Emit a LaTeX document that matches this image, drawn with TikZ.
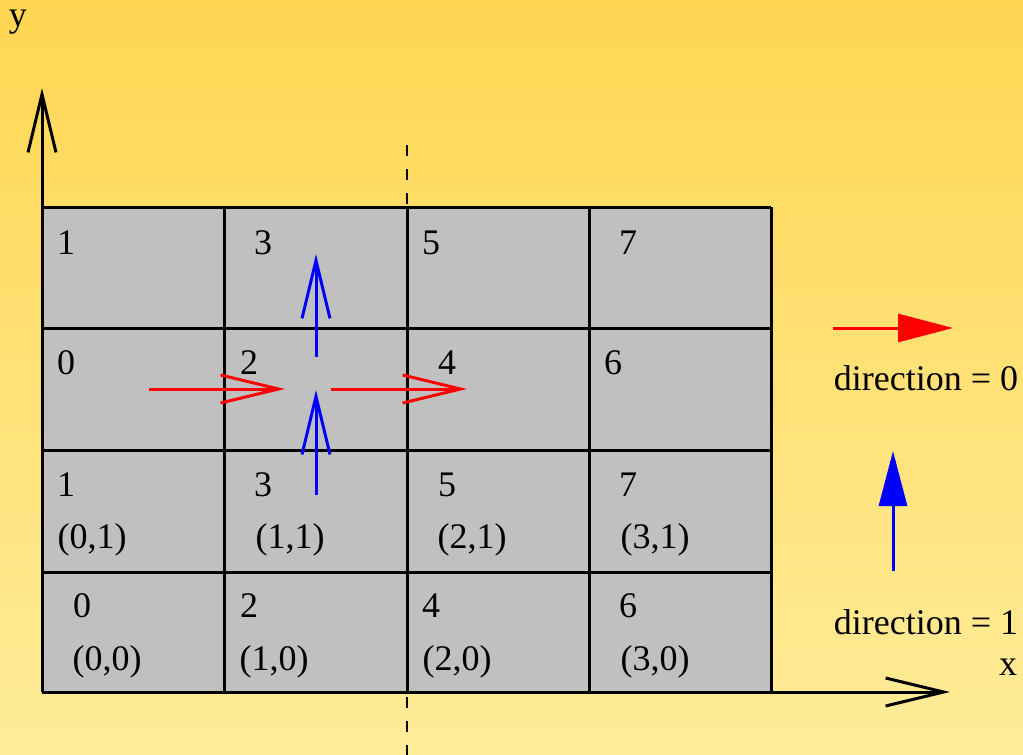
\documentclass[tikz,border=0pt]{standalone}
\usepackage{fontspec}
\setmainfont{Liberation Serif}
\usetikzlibrary{arrows.meta}

\definecolor{bgtop}{RGB}{255,214,82}
\definecolor{bgbottom}{RGB}{255,236,154}
\definecolor{cellgray}{RGB}{192,192,192}

\tikzset{
	lbl/.style={inner sep=0pt, font=\fontsize{18}{22}\selectfont},
	grline/.style={line width=1.5pt},
	barb/.style={-{Straight Barb[length=29pt, width=14pt]}, line width=1.5pt},
	solid head/.style={-{Triangle[length=27.5pt, width=14pt]}, line width=1.5pt}
}

\begin{document}
\begin{tikzpicture}[x=0.5pt, y=-0.5pt]
	\shade[top color=bgtop, bottom color=bgbottom] (0,0) rectangle (1023,755);
	\useasboundingbox (0,0) rectangle (1023,755);
	% cells
	\fill[cellgray] (42,207) rectangle (771,692);
	\foreach \x in {42,224,407,589,771}
		\draw[grline] (\x,207) -- (\x,692);
	\foreach \y in {207,328,450,572,692}
		\draw[grline] (42,\y) -- (771,\y);
	% axes
	\coordinate (o) at (42,692);
	\coordinate (ytip) at (42,88);
	\coordinate (xtip) at (950,692);
	\draw[barb] (o) -- (ytip);
	\draw[barb] (o) -- (xtip);
	\node[lbl, anchor=base] (ylab) at (18,26) {y};
	\node[lbl] (xlab) at (1008,667) {x};
	% split line
	\coordinate (cuttop) at (407,145);
	\coordinate (cutbot) at (407,755);
	\draw[line width=1pt, dash pattern=on 5.5pt off 6.5pt] (cuttop) -- (cutbot);
	% cell numbers
	\node[lbl] (n13) at (66,243) {1};
	\node[lbl] (n33) at (263,243) {3};
	\node[lbl] (n53) at (431,243) {5};
	\node[lbl] (n73) at (628,243) {7};
	\node[lbl] (n02) at (66,363) {0};
	\node[lbl] (n22) at (249,363) {2};
	\node[lbl] (n42) at (447,363) {4};
	\node[lbl] (n62) at (613,363) {6};
	\node[lbl] (n11) at (66,485) {1};
	\node[lbl] (n31) at (263,485) {3};
	\node[lbl] (n51) at (447,485) {5};
	\node[lbl] (n71) at (628,485) {7};
	\node[lbl] (c01) at (92,540) {(0,1)};
	\node[lbl] (c11) at (290,540) {(1,1)};
	\node[lbl] (c21) at (472,540) {(2,1)};
	\node[lbl] (c31) at (655,540) {(3,1)};
	\node[lbl] (n00) at (82,606) {0};
	\node[lbl] (n20) at (249,606) {2};
	\node[lbl] (n40) at (431,606) {4};
	\node[lbl] (n60) at (628,606) {6};
	\node[lbl] (c00) at (107,662) {(0,0)};
	\node[lbl] (c10) at (274,662) {(1,0)};
	\node[lbl] (c20) at (457,662) {(2,0)};
	\node[lbl] (c30) at (655,662) {(3,0)};
	% sends
	\coordinate (ra) at (149,389);
	\coordinate (rb) at (285,389);
	\coordinate (rc) at (331,389);
	\coordinate (rd) at (467,389);
	\coordinate (ba) at (316,495);
	\coordinate (bb) at (316,390);
	\coordinate (bc) at (316,357);
	\coordinate (bd) at (316,254);
	\draw[barb, red] (ra) -- (rb);
	\draw[barb, red] (rc) -- (rd);
	\draw[barb, blue] (ba) -- (bb);
	\draw[barb, blue] (bc) -- (bd);
	% legend
	\coordinate (l0a) at (833,328);
	\coordinate (l0b) at (953,328);
	\coordinate (l1a) at (893,571);
	\coordinate (l1b) at (893,451);
	\draw[solid head, red] (l0a) -- (l0b);
	\draw[solid head, blue] (l1a) -- (l1b);
	\node[lbl] (dir0) at (926,378) {direction = 0};
	\node[lbl] (dir1) at (926,622) {direction = 1};
\end{tikzpicture}
\end{document}
